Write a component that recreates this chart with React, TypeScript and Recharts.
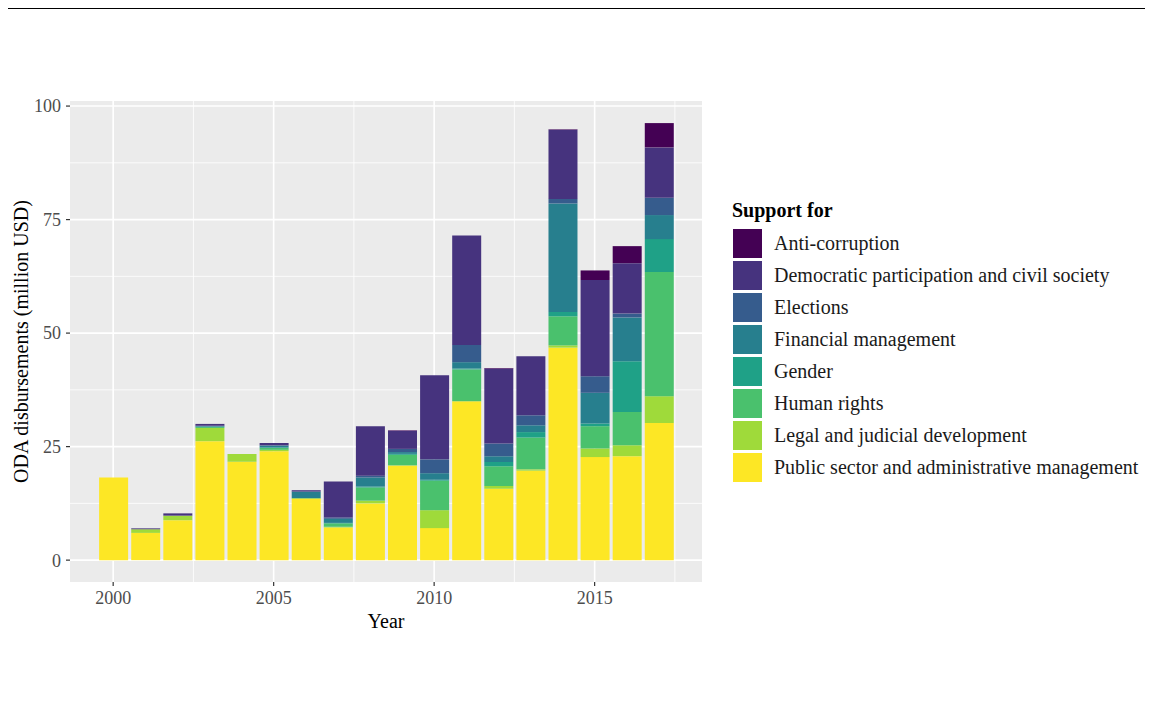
import { BarChart, Bar, XAxis, YAxis, CartesianGrid } from 'recharts';

const years = [2000, 2001, 2002, 2003, 2004, 2005, 2006, 2007, 2008, 2009, 2010, 2011, 2012, 2013, 2014, 2015, 2016, 2017];

const publicSector = [18.2, 6.0, 8.8, 26.2, 21.65, 24.0, 13.5, 7.2, 12.5, 20.8, 7.05, 35.0, 15.7, 19.7, 46.8, 22.7, 22.9, 30.2];
const legal = [0, 0.8, 1.0, 2.9, 1.75, 0.3, 0.15, 0.15, 0.6, 0.1, 3.95, 0, 0.6, 0.3, 0.5, 1.9, 2.4, 5.9];
const humanRights = [0, 0, 0, 0.2, 0, 0.4, 0, 0.75, 2.9, 2.3, 6.5, 7.0, 4.4, 7.0, 6.4, 4.9, 7.35, 27.35];
const gender = [0, 0, 0, 0.1, 0, 0.1, 0, 0.1, 0.2, 0.2, 0.2, 0.2, 0.9, 1.2, 0.95, 0.6, 11.15, 7.25];
const financial = [0, 0, 0, 0.1, 0, 0.4, 1.45, 0.9, 2.0, 0.4, 1.45, 1.4, 1.3, 1.5, 23.9, 6.75, 9.65, 5.3];
const elections = [0, 0, 0, 0.1, 0, 0.1, 0, 0.3, 0.4, 0.7, 3.05, 3.8, 2.8, 2.2, 1.0, 3.65, 0.85, 3.8];
const democratic = [0, 0.2, 0.5, 0.4, 0, 0.5, 0.3, 7.9, 10.9, 4.0, 18.5, 24.1, 16.5, 13.0, 15.25, 21.2, 11.1, 11.1];
const antiCorruption = [0, 0, 0, 0, 0, 0, 0, 0, 0, 0.1, 0, 0, 0.1, 0, 0.1, 2.1, 3.75, 5.35];

const xTicks = [2000, 2005, 2010, 2015];
const yTicks = [0, 25, 50, 75, 100];
const xMinor = [2002.5, 2007.5, 2012.5, 2017.5];
const yMinor = [12.5, 37.5, 62.5, 87.5];

// legend order top to bottom (stack order is the reverse)
const series = [
  { key: 'anti', name: 'Anti-corruption', color: '#440154', values: antiCorruption },
  { key: 'democratic', name: 'Democratic participation and civil society', color: '#46337E', values: democratic },
  { key: 'elections', name: 'Elections', color: '#365C8D', values: elections },
  { key: 'financial', name: 'Financial management', color: '#277F8E', values: financial },
  { key: 'gender', name: 'Gender', color: '#1FA187', values: gender },
  { key: 'human', name: 'Human rights', color: '#4AC16D', values: humanRights },
  { key: 'legal', name: 'Legal and judicial development', color: '#9FDA3A', values: legal },
  { key: 'public', name: 'Public sector and administrative management', color: '#FDE725', values: publicSector },
];

const data = years.map((year, i) => {
  const row: Record<string, number> = { year };
  series.forEach((s) => {
    row[s.key] = s.values[i];
  });
  return row;
});

const serif = '"Liberation Serif", "Times New Roman", serif';
const tickStyle = { fill: '#4D4D4D', fontSize: 18, fontFamily: serif };

function XTitle(props: any) {
  const vb = props.viewBox;
  return (
    <text x={vb.x + vb.width / 2} y={vb.y + 45.5} textAnchor="middle" fontSize={20} fontFamily={serif} fill="#000">
      Year
    </text>
  );
}

function YTitle(props: any) {
  const vb = props.viewBox;
  const cy = vb.y + vb.height / 2;
  return (
    <text transform={`translate(28, ${cy}) rotate(-90)`} textAnchor="middle" fontSize={20} fontFamily={serif} fill="#000">
      ODA disbursements (million USD)
    </text>
  );
}

export default function App() {
  const stackOrder = [...series].reverse();
  return (
    <div style={{ position: 'relative', width: 1153, height: 716, margin: -8, background: '#fff', fontFamily: serif }}>
      <div style={{ position: 'absolute', left: 0, top: 7, width: 1153, height: 2, background: '#000' }} />
      <div style={{ position: 'absolute', left: 0, top: 0 }}>
        <BarChart width={1153} height={716} data={data} margin={{ top: 101, right: 451, bottom: 84, left: 0 }} barCategoryGap={0}>
          <CartesianGrid
            fill="#EBEBEB"
            stroke="#FFFFFF"
            strokeWidth={0.8}
            horizontalValues={yMinor}
            verticalValues={xMinor}
          />
          <CartesianGrid
            stroke="#FFFFFF"
            strokeWidth={1.6}
            horizontalValues={yTicks}
            verticalValues={xTicks}
          />
          <XAxis
            dataKey="year"
            type="number"
            domain={[1998.655, 2018.345]}
            ticks={xTicks}
            allowDecimals={false}
            axisLine={false}
            tickLine={{ stroke: '#333333', strokeWidth: 1.2 }}
            tickSize={4}
            tickMargin={5}
            tick={tickStyle}
            height={50}
            label={<XTitle />}
          />
          <YAxis
            type="number"
            domain={[-4.815, 101.115]}
            ticks={yTicks}
            axisLine={false}
            tickLine={{ stroke: '#333333', strokeWidth: 1.2 }}
            tickSize={4}
            tickMargin={5}
            tick={tickStyle}
            width={70}
            allowDataOverflow
            label={<YTitle />}
          />
          {stackOrder.map((s) => (
            <Bar key={s.key} dataKey={s.key} name={s.name} stackId="a" fill={s.color} barSize={29} isAnimationActive={false} />
          ))}
        </BarChart>
      </div>
      <div style={{ position: 'absolute', left: 732, top: 200, fontSize: 20, fontWeight: 'bold', lineHeight: '20px', color: '#000' }}>
        Support for
      </div>
      {series.map((s, i) => (
        <div key={s.key} style={{ position: 'absolute', left: 733, top: 229 + i * 32, height: 29, display: 'flex', alignItems: 'center' }}>
          <div style={{ width: 29, height: 29, background: s.color }} />
          <span style={{ marginLeft: 12, fontSize: 20, color: '#1A1A1A', whiteSpace: 'nowrap' }}>{s.name}</span>
        </div>
      ))}
    </div>
  );
}
